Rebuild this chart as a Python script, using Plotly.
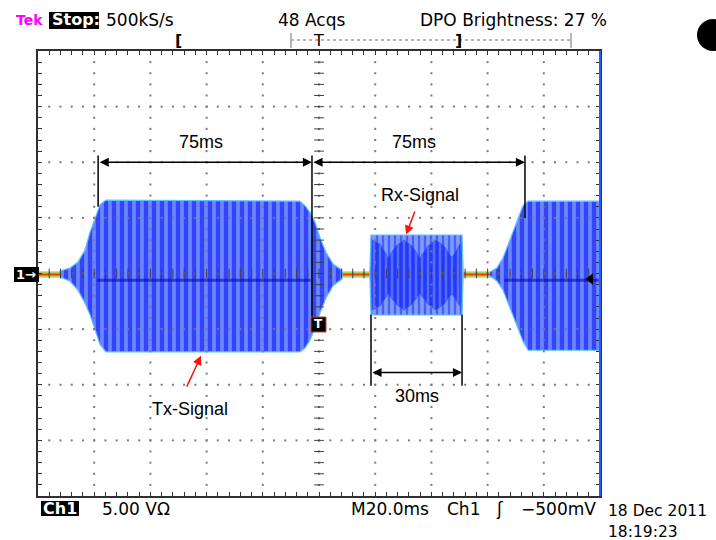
import plotly.graph_objects as go

# ---------------- data (time in ms, voltage in V) ----------------
# Tx burst envelope
tx_t = [-92.2, -88.6, -85.8, -83.3, -81.5, -79.7, -77.9, -75.8, -6.8, -5.0, -3.2, -1.4, 0.4, 2.5, 5.0, 8.2]
tx_hi = [0.22, 0.49, 1.03, 2.1, 3.7, 5.0, 6.2, 6.6, 6.5, 6.1, 5.5, 4.6, 3.2, 1.9, 0.85, 0.3]
tx_lo = [-0.3, -0.7, -1.5, -2.65, -3.7, -5.1, -6.4, -7.05, -7.05, -6.7, -6.0, -4.9, -3.5, -2.2, -1.1, -0.5]

# Rx burst envelope
rx_t = [18.1, 18.5, 50.9, 51.3]
rx_hi = [0.0, 3.46, 3.46, 0.0]
rx_lo = [0.0, -3.73, -3.73, 0.0]

# Rx inner (beating) part
rxi_t = [18.9, 21.7, 24.6, 27.4, 30.2, 33.1, 35.9, 38.8, 41.6, 44.5, 47.3, 50.2]
rxi_hi = [3.0, 2.65, 1.4, 2.47, 3.0, 2.47, 1.4, 2.47, 3.0, 2.47, 1.4, 2.65]
rxi_lo = [-3.28, -2.92, -1.8, -2.74, -3.28, -2.74, -1.8, -2.74, -3.28, -2.74, -1.8, -2.92]

# third (next Tx) burst envelope
b3_t = [60.9, 63.3, 65.5, 67.3, 69.0, 70.8, 72.6, 74.4, 100.0]
b3_hi = [0.13, 0.5, 1.4, 2.6, 3.7, 5.0, 6.1, 6.5, 6.5]
b3_lo = [-0.22, -0.67, -1.5, -2.6, -3.7, -4.9, -6.1, -6.9, -6.9]

# idle baseline
base_t = [-100.0, 100.0]
base_v = [-0.1, -0.1]

# dark centre band inside the bursts
band_t = [-79.0, -3.0, None, 66.0, 100.0]
band_v = [-0.6, -0.6, None, -0.6, -0.6]

# measurement markers (ms)
dim75_t = [-78.6, -2.5, 73.3]
dim30_t = [18.5, 50.9]
trig_level_v = -0.5

# axis settings
t_range = [-100, 100]
v_range = [-20, 20]
t_div = 20
v_div = 5

# ---------------- figure ----------------
L, T, W, H = 38, 51, 562, 445
FIG_W, FIG_H = 716, 540


def px(x):
    return (x - L) / W


def py(y):
    return (T + H - y) / H


fig = go.Figure()

# baseline (persistence colours)
for w, c in [(6, "#3fd8c0"), (4, "#ffd000"), (2, "#ff3000")]:
    fig.add_trace(go.Scatter(x=base_t, y=base_v, mode="lines",
                             line=dict(color=c, width=w), hoverinfo="skip"))


def burst(t, hi, lo, bg, fg, size, solid, edge, ew=1.2):
    fig.add_trace(go.Scatter(
        x=t + t[::-1], y=hi + lo[::-1], mode="lines", fill="toself",
        fillcolor=bg, line=dict(color=edge, width=ew),
        fillpattern=dict(shape="|", bgcolor=bg, fgcolor=fg, size=size, solidity=solid),
        hoverinfo="skip"))


burst(tx_t, tx_hi, tx_lo, "#6a88ff", "#0000f4", 8, 0.55, "#5cc4ff")
burst(b3_t, b3_hi, b3_lo, "#6a88ff", "#0000f4", 8, 0.55, "#5cc4ff")
burst(rx_t, rx_hi, rx_lo, "#7e9cff", "#1020f4", 6, 0.4, "#5cc4ff")
burst(rxi_t, rxi_hi, rxi_lo, "#5070ff", "#0000f0", 6, 0.6, "#3050ff", 0.8)

fig.add_trace(go.Scatter(x=band_t, y=band_v, mode="lines", opacity=0.55,
                         line=dict(color="#0000b0", width=3), hoverinfo="skip"))

# graticule dots
gx, gy = [], []
for k in range(-4, 5):
    tv = k * t_div
    for j in range(-19, 20):
        gx.append(tv)
        gy.append(j * 1.0)
for k in range(-3, 4):
    vv = k * v_div
    for j in range(-24, 25):
        gx.append(j * 4.0)
        gy.append(vv)
fig.add_trace(go.Scatter(x=gx, y=gy, mode="markers",
                         marker=dict(symbol="square", size=2, color="#7a7a7a", line=dict(width=0)),
                         hoverinfo="skip"))

# centre cross ticks
fig.add_trace(go.Scatter(x=[j * 4.0 for j in range(-24, 25)], y=[0] * 49, mode="markers",
                         marker=dict(symbol="line-ns", size=7, line=dict(color="#404040", width=1)),
                         hoverinfo="skip"))
fig.add_trace(go.Scatter(x=[0] * 39, y=[j * 1.0 for j in range(-19, 20)], mode="markers",
                         marker=dict(symbol="line-ew", size=7, line=dict(color="#404040", width=1)),
                         hoverinfo="skip"))

# trigger level indicator
fig.add_trace(go.Scatter(x=[96.6], y=[trig_level_v], mode="markers",
                         marker=dict(symbol="triangle-left", size=10, color="black"),
                         hoverinfo="skip"))

shapes = []
annos = []

# 75 ms dimension lines
v_top = 10.6
for t0, v_end in zip(dim75_t, [6.0, -3.9, 5.0]):
    shapes.append(dict(type="line", xref="x", yref="y", x0=t0, x1=t0, y0=v_top, y1=v_end,
                       line=dict(color="black", width=1.5)))
for a, b in [(dim75_t[0], dim75_t[1]), (dim75_t[1], dim75_t[2])]:
    annos.append(dict(x=b, y=10.0, ax=a, ay=10.0, xref="x", yref="y", axref="x", ayref="y",
                      text="", showarrow=True, arrowhead=2, arrowsize=1.3, arrowwidth=1.4,
                      arrowside="end+start", arrowcolor="black", standoff=0, startstandoff=0))
    annos.append(dict(x=(a + b) / 2 - 1.5, y=11.8, xref="x", yref="y", text="75ms", showarrow=False,
                      font=dict(family="Liberation Sans, Arial", size=18, color="black")))

# 30 ms dimension
for t0 in dim30_t:
    shapes.append(dict(type="line", xref="x", yref="y", x0=t0, x1=t0, y0=-3.7, y1=-10.1,
                       line=dict(color="black", width=1.5)))
annos.append(dict(x=dim30_t[1], y=-8.9, ax=dim30_t[0], ay=-8.9, xref="x", yref="y", axref="x", ayref="y",
                  text="", showarrow=True, arrowhead=2, arrowsize=1.3, arrowwidth=1.4,
                  arrowside="end+start", arrowcolor="black", standoff=0, startstandoff=0))
annos.append(dict(x=34.9, y=-11.0, xref="x", yref="y", text="30ms", showarrow=False,
                  font=dict(family="Liberation Sans, Arial", size=18, color="black")))

# signal labels with red arrows
annos.append(dict(x=35.9, y=7.1, xref="x", yref="y", text="Rx-Signal", showarrow=False,
                  font=dict(family="Liberation Sans, Arial", size=18, color="black")))
annos.append(dict(x=31.0, y=3.5, ax=34.3, ay=5.7, xref="x", yref="y", axref="x", ayref="y",
                  text="", showarrow=True, arrowhead=2, arrowsize=1.2, arrowwidth=1.5,
                  arrowcolor="#ff1010", standoff=0))
annos.append(dict(x=-45.9, y=-12.2, xref="x", yref="y", text="Tx-Signal", showarrow=False,
                  font=dict(family="Liberation Sans, Arial", size=18, color="black")))
annos.append(dict(x=-42.0, y=-7.4, ax=-47.3, ay=-10.3, xref="x", yref="y", axref="x", ayref="y",
                  text="", showarrow=True, arrowhead=2, arrowsize=1.2, arrowwidth=1.5,
                  arrowcolor="#ff1010", standoff=0))

# right edge persistence strip
shapes.append(dict(type="line", xref="paper", yref="paper", x0=1, x1=1, y0=0, y1=1,
                   line=dict(color="#2a5cff", width=2)))

# ground marker "1->"
shapes.append(dict(type="rect", xref="paper", yref="paper", x0=px(14), x1=px(39), y0=py(282), y1=py(267),
                   fillcolor="black", line=dict(width=0)))
# trigger position marker
shapes.append(dict(type="rect", xref="paper", yref="paper", x0=px(311), x1=px(326), y0=py(332), y1=py(317),
                   fillcolor="black", line=dict(color="#d04020", width=1)))
# Stop: box, Ch1 box
shapes.append(dict(type="rect", xref="paper", yref="paper", x0=px(49), x1=px(99), y0=py(29), y1=py(12),
                   fillcolor="black", line=dict(width=0)))
shapes.append(dict(type="rect", xref="paper", yref="paper", x0=px(41), x1=px(79), y0=py(516), y1=py(501),
                   fillcolor="black", line=dict(width=0)))
# record bar
shapes.append(dict(type="line", xref="paper", yref="paper", x0=px(291), x1=px(571), y0=py(40), y1=py(40),
                   line=dict(color="#a0a0a0", width=1.5, dash="dot")))
for xx in (291, 571):
    shapes.append(dict(type="line", xref="paper", yref="paper", x0=px(xx), x1=px(xx), y0=py(33), y1=py(48),
                       line=dict(color="#a0a0a0", width=1.5)))
# black circle top right
shapes.append(dict(type="circle", xref="paper", yref="paper", x0=px(697), x1=px(729), y0=py(51), y1=py(19),
                   fillcolor="black", line=dict(width=0)))

SF = "DejaVu Sans"


def ptxt(x, y, text, size=17, color="black", anchor="left", bold=False):
    annos.append(dict(x=px(x), y=py(y), xref="paper", yref="paper", text=("<b>%s</b>" % text) if bold else text,
                      showarrow=False, xanchor=anchor, yanchor="middle",
                      font=dict(family=SF, size=size, color=color)))


ptxt(14, 20, "Tek", color="#ff00ff", bold=True, size=14)
ptxt(50, 20, "Stop:", color="white", bold=True, size=16)
ptxt(104, 20, "500kS/s")
ptxt(276, 20, "48 Acqs")
ptxt(418, 20, "DPO Brightness: 27 %")
ptxt(178, 41, "[", size=16, anchor="center", bold=True)
ptxt(318, 40, "T", size=16, anchor="center")
ptxt(458, 41, "]", size=16, anchor="center", bold=True)
ptxt(26, 274.5, "1→", size=13, color="white", anchor="center", bold=True)
ptxt(318.5, 324.5, "T", size=12, color="white", anchor="center", bold=True)
ptxt(60, 509, "Ch1", color="white", anchor="center", bold=True, size=16)
ptxt(100, 509, "5.00 VΩ")
ptxt(349, 509, "M20.0ms")
ptxt(445, 509, "Ch1")
ptxt(500, 509, "ʃ", anchor="center")
ptxt(519, 509, "−500mV")
ptxt(606, 511, "18 Dec 2011", size=15.5)
ptxt(606, 532, "18:19:23", size=15.5)

axis_common = dict(showgrid=False, zeroline=False, showline=True, linecolor="#303030", linewidth=2,
                   mirror="allticks", ticks="inside", ticklen=4, tickwidth=1, tickcolor="#303030",
                   showticklabels=False, fixedrange=True)

fig.update_layout(
    width=FIG_W, height=FIG_H,
    margin=dict(l=L, r=FIG_W - L - W, t=T, b=FIG_H - T - H),
    paper_bgcolor="white", plot_bgcolor="white",
    showlegend=False,
    xaxis=dict(range=t_range, dtick=4, tick0=0, **axis_common),
    yaxis=dict(range=v_range, dtick=1, tick0=0, **axis_common),
    shapes=shapes, annotations=annos,
)

fig.write_html("out.html")
